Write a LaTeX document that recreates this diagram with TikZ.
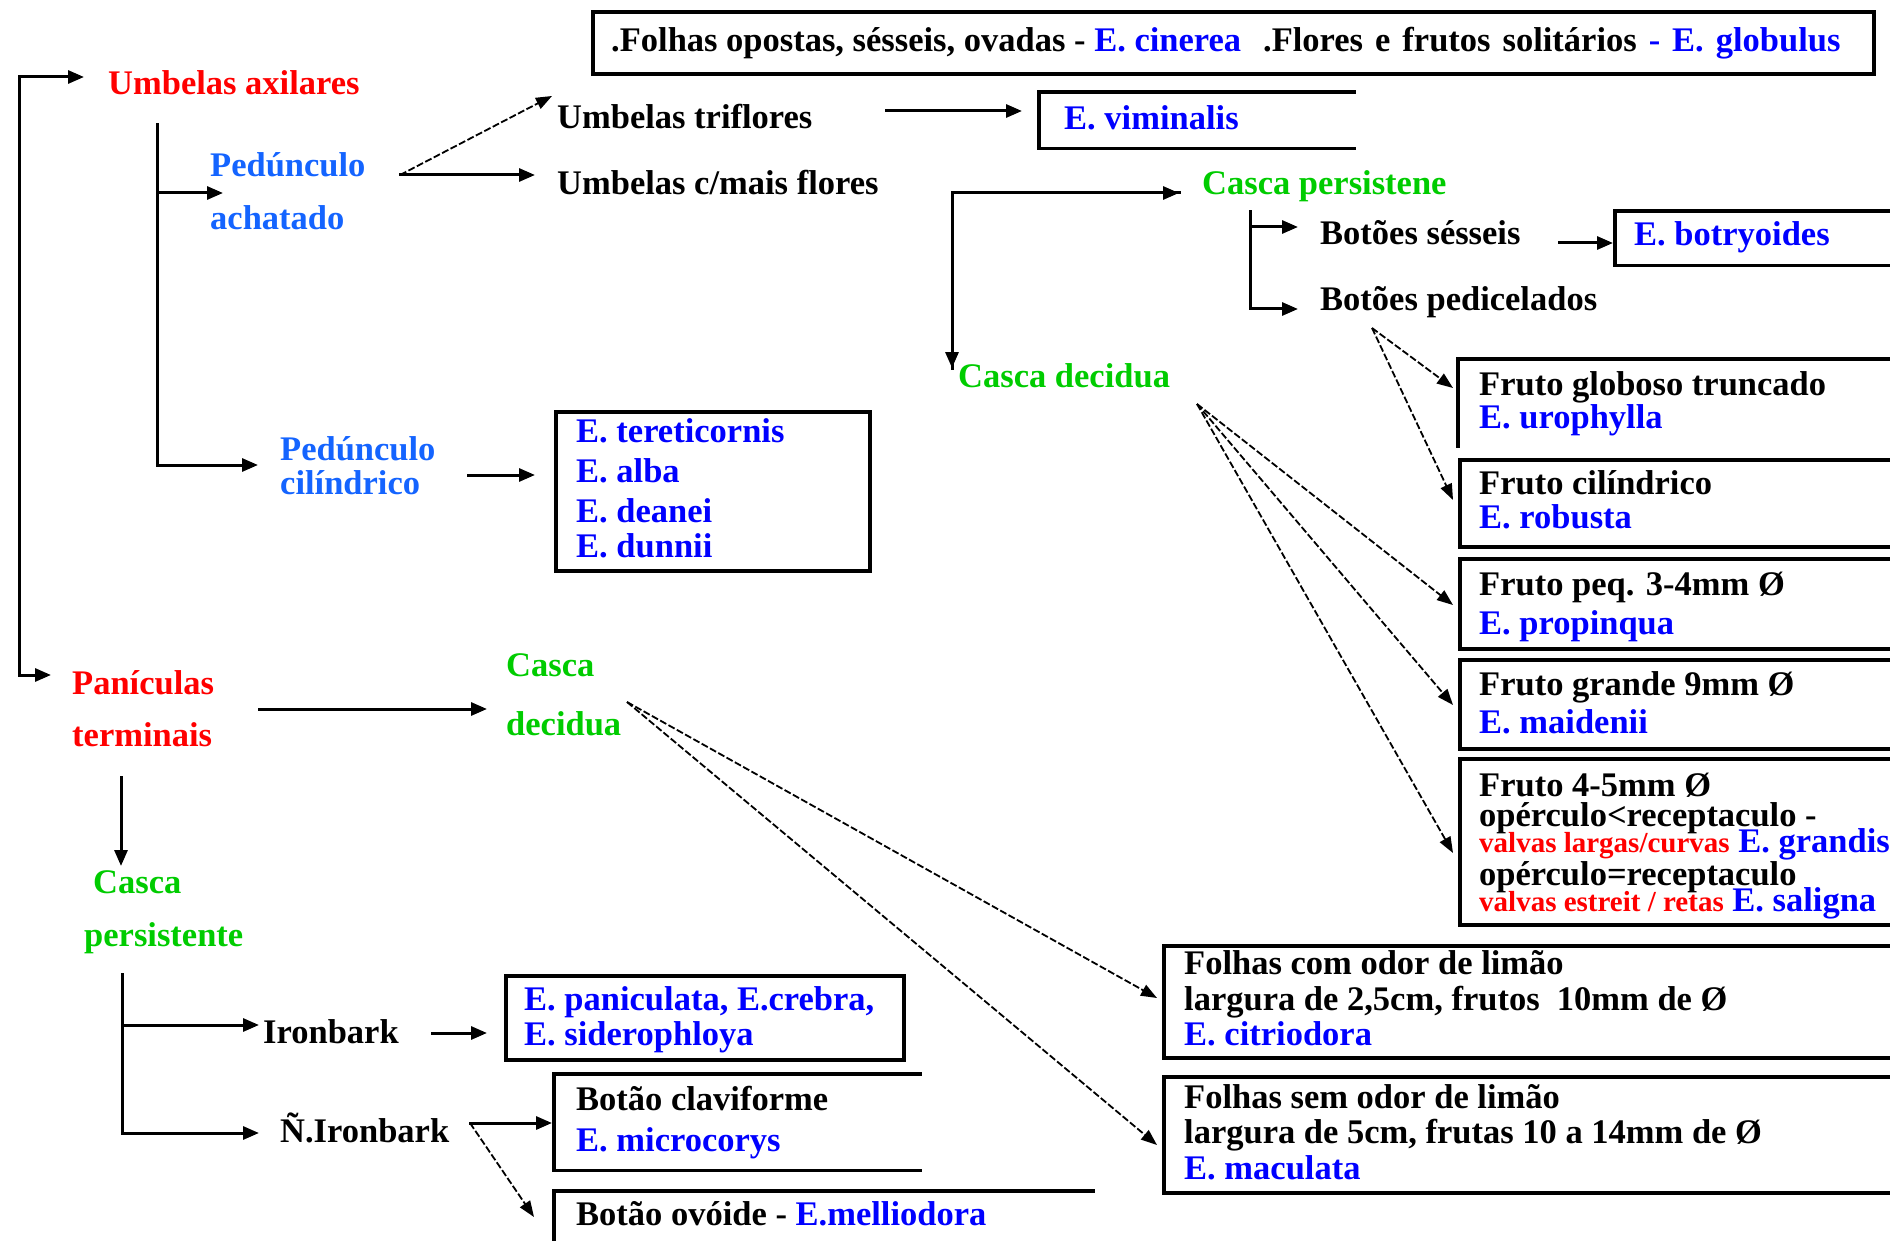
\documentclass[tikz,border=0pt]{standalone}
\usepackage{fontspec}
\setmainfont{Liberation Serif}
\usetikzlibrary{arrows.meta}
\definecolor{ered}{RGB}{255,0,0}
\definecolor{eblue}{RGB}{0,0,255}
\definecolor{lblue}{RGB}{20,100,255}
\definecolor{egreen}{RGB}{0,204,0}
\begin{document}
\begin{tikzpicture}[x=1pt,y=-1pt,
  txt/.style={anchor=base west, inner sep=0pt, font=\fontsize{34.5}{40}\selectfont\bfseries},
  arr/.style={line width=3pt, line cap=rect, -{Triangle[length=16pt,width=13pt]}},
  darr/.style={line width=1.8pt, dash pattern=on 7pt off 2.5pt, -{Triangle[length=16pt,width=12pt]}},
  boxn/.style={anchor=north west, inner sep=0pt, line width=3.6pt},
  side/.style={line width=3.6pt},
  ]
\useasboundingbox[fill=white] (0,0) rectangle (1890,1241);

% ---------- boxes ----------
\node[boxn, draw, minimum width=1281pt, minimum height=62pt] (topbox) at (591,10) {};
\node[boxn, minimum width=313pt, minimum height=53pt] (vimbox) at (1039,92) {};
\draw[side] (vimbox.north east) -- (vimbox.north west) -- (vimbox.south west) -- (vimbox.south east);
\node[boxn, minimum width=290pt, minimum height=51pt] (botbox) at (1615,211) {};
\draw[side] (botbox.north east) -- (botbox.north west) -- (botbox.south west) -- (botbox.south east);
\node[boxn, draw, minimum width=314pt, minimum height=159pt] (terebox) at (554,410) {};
\node[boxn, minimum width=450pt, minimum height=85pt] (globbox) at (1458,359) {};
\draw[side] (globbox.north east) -- (globbox.north west) -- (globbox.south west);
\node[boxn, draw, minimum width=450pt, minimum height=87pt] (cilbox) at (1458,458) {};
\node[boxn, draw, minimum width=450pt, minimum height=90pt] (peqbox) at (1458,557) {};
\node[boxn, draw, minimum width=450pt, minimum height=89pt] (grabox) at (1458,658) {};
\node[boxn, draw, minimum width=450pt, minimum height=166pt] (f45box) at (1458,757) {};
\node[boxn, draw, minimum width=398pt, minimum height=84pt] (ironbox) at (504,974) {};
\node[boxn, minimum width=364pt, minimum height=93pt] (clavbox) at (554,1074) {};
\draw[side] (clavbox.north east) -- (clavbox.north west) -- (clavbox.south west) -- (clavbox.south east);
\node[boxn, minimum width=537pt, minimum height=60pt] (ovbox) at (554,1191) {};
\draw[side] (ovbox.north east) -- (ovbox.north west) -- (ovbox.south west);
\node[boxn, draw, minimum width=750pt, minimum height=112pt] (combox) at (1162,944) {};
\node[boxn, draw, minimum width=750pt, minimum height=116pt] (sembox) at (1162,1075) {};

% ---------- texts ----------
\node[txt] (top) at (611,52) {.Folhas opostas, sésseis, ovadas - \textcolor{eblue}{E. cinerea}\hspace{22pt}{\spaceskip=12pt plus 2pt minus 1pt .Flores e frutos solitários \textcolor{eblue}{- E. globulus}}};
\node[txt, text=ered] (ua) at (108,95) {Umbelas axilares};
\node[txt, text=lblue] (pa1) at (210,177) {Pedúnculo};
\node[txt, text=lblue] (pa2) at (210,230) {achatado};
\node[txt] (ut) at (557,129) {Umbelas triflores};
\node[txt] (uc) at (557,195) {Umbelas c/mais flores};
\node[txt, text=eblue] (vim) at (1064,130) {E. viminalis};
\node[txt, text=egreen] (cp) at (1202,195) {Casca persistene};
\node[txt] (bs) at (1320,245) {Botões sésseis};
\node[txt] (bp) at (1320,311) {Botões pedicelados};
\node[txt, text=eblue] (bot) at (1634,246) {E. botryoides};
\node[txt, text=egreen] (cd) at (958,387) {Casca decidua};
\node[txt, text=lblue] (pc1) at (280,460) {Pedúnculo};
\node[txt, text=lblue] (pc2) at (280,494) {cilíndrico};
\node[txt, text=eblue] (t1) at (576,442) {E. tereticornis};
\node[txt, text=eblue] (t2) at (576,482) {E. alba};
\node[txt, text=eblue] (t3) at (576,522) {E. deanei};
\node[txt, text=eblue] (t4) at (576,557) {E. dunnii};

\node[txt] (g1) at (1479,395) {Fruto globoso truncado};
\node[txt, text=eblue] (g2) at (1479,428) {E. urophylla};
\node[txt] (c1) at (1479,494) {Fruto cilíndrico};
\node[txt, text=eblue] (c2) at (1479,528) {E. robusta};
\node[txt] (p1) at (1479,595) {Fruto peq. 3-4mm Ø};
\node[txt, text=eblue] (p2) at (1479,634) {E. propinqua};
\node[txt] (r1) at (1479,695) {Fruto grande 9mm Ø};
\node[txt, text=eblue] (r2) at (1479,733) {E. maidenii};
\node[txt] (f1) at (1479,796) {Fruto 4-5mm Ø};
\node[txt] (f2) at (1479,826) {opérculo<receptaculo -};
\node[txt] (f3) at (1479,852) {{\color{ered}\fontsize{29}{34}\selectfont valvas largas/curvas} \textcolor{eblue}{E. grandis}};
\node[txt] (f4) at (1479,885) {opérculo=receptaculo};
\node[txt] (f5) at (1479,911) {{\color{ered}\fontsize{29}{34}\selectfont valvas estreit / retas} \textcolor{eblue}{E. saligna}};

\node[txt, text=ered] (pt1) at (72,694) {Panículas};
\node[txt, text=ered] (pt2) at (72,746) {terminais};
\node[txt, text=egreen] (cdl1) at (506,676) {Casca};
\node[txt, text=egreen] (cdl2) at (506,735) {decidua};
\node[txt, text=egreen] (cpl1) at (93,893) {Casca};
\node[txt, text=egreen] (cpl2) at (84,946) {persistente};
\node[txt] (ib) at (263,1043) {Ironbark};
\node[txt, text=eblue] (i1) at (524,1010) {E. paniculata, E.crebra,};
\node[txt, text=eblue] (i2) at (524,1045) {E. siderophloya};
\node[txt] (nib) at (280,1142) {Ñ.Ironbark};
\node[txt] (cl1) at (576,1110) {Botão claviforme};
\node[txt, text=eblue] (cl2) at (576,1151) {E. microcorys};
\node[txt] (ov) at (576,1225) {Botão ovóide - \textcolor{eblue}{E.melliodora}};
\node[txt] (co1) at (1184,974) {Folhas com odor de limão};
\node[txt] (co2) at (1184,1010) {largura de 2,5cm, frutos\ \ 10mm de Ø};
\node[txt, text=eblue] (co3) at (1184,1045) {E. citriodora};
\node[txt] (so1) at (1184,1108) {Folhas sem odor de limão};
\node[txt] (so2) at (1184,1143) {largura de 5cm, frutas 10 a 14mm de Ø};
\node[txt, text=eblue] (so3) at (1184,1179) {E. maculata};

% ---------- connector points ----------
\coordinate (rootT) at (19,77);   \coordinate (rootB) at (19,675);
\coordinate (uaIn) at (84,77);    \coordinate (ptIn) at (51,675);
\coordinate (uaT) at (157,125);   \coordinate (uaJ1) at (157,193); \coordinate (uaJ2) at (157,465);
\coordinate (paIn) at (223,193);  \coordinate (pcIn) at (258,465);
\coordinate (paOut) at (400,175); \coordinate (utIn) at (552,96);  \coordinate (ucIn) at (535,175);
\coordinate (utOut) at (886,111); \coordinate (vimIn) at (1022,111);
\coordinate (ucJ) at (952,193);   \coordinate (cpIn) at (1179,193); \coordinate (cdIn) at (952,368);
\coordinate (cpT) at (1250,212);  \coordinate (cpJ1) at (1250,227); \coordinate (cpJ2) at (1250,309);
\coordinate (bsIn) at (1298,227); \coordinate (bpIn) at (1298,309);
\coordinate (bsOut) at (1559,243); \coordinate (botIn) at (1613,243);
\coordinate (pcOut) at (468,475); \coordinate (tereIn) at (535,475);
\coordinate (bpOut) at (1372,328); \coordinate (cdOut) at (1197,404);
\coordinate (globIn) at (1453,388); \coordinate (cilIn) at (1453,500);
\coordinate (peqIn) at (1453,605); \coordinate (graIn) at (1453,705); \coordinate (f45In) at (1453,853);
\coordinate (ptOut) at (259,709); \coordinate (cdlIn) at (487,709);
\coordinate (ptD) at (121,777);   \coordinate (cplIn) at (121,866);
\coordinate (cplT) at (122,974);  \coordinate (cplJ1) at (122,1025); \coordinate (cplJ2) at (122,1133);
\coordinate (ibIn) at (259,1025); \coordinate (nibIn) at (259,1133);
\coordinate (ibOut) at (432,1033); \coordinate (ironIn) at (487,1033);
\coordinate (nibOut) at (470,1123); \coordinate (clavIn) at (552,1123); \coordinate (ovIn) at (534,1217);
\coordinate (cdlOut) at (627,702); \coordinate (comIn) at (1157,998); \coordinate (semIn) at (1157,1145);

% ---------- connectors ----------
\draw[arr] (rootB) -- (rootT) -- (uaIn);
\draw[arr] (rootT) -- (rootB) -- (ptIn);
\draw[arr] (uaT) -- (uaJ1) -- (paIn);
\draw[arr] (uaT) -- (uaJ2) -- (pcIn);
\draw[darr] (paOut) -- (utIn);
\draw[arr] (paOut) -- (ucIn);
\draw[arr] (utOut) -- (vimIn);
\draw[arr] (cdIn) -- (ucJ) -- (cpIn);
\draw[arr] (cpIn) -- (ucJ) -- (cdIn);
\draw[arr] (cpT) -- (cpJ1) -- (bsIn);
\draw[arr] (cpT) -- (cpJ2) -- (bpIn);
\draw[arr] (bsOut) -- (botIn);
\draw[arr] (pcOut) -- (tereIn);
\draw[darr] (bpOut) -- (globIn);
\draw[darr] (bpOut) -- (cilIn);
\draw[darr] (cdOut) -- (peqIn);
\draw[darr] (cdOut) -- (graIn);
\draw[darr] (cdOut) -- (f45In);
\draw[arr] (ptOut) -- (cdlIn);
\draw[arr] (ptD) -- (cplIn);
\draw[arr] (cplT) -- (cplJ1) -- (ibIn);
\draw[arr] (cplT) -- (cplJ2) -- (nibIn);
\draw[arr] (ibOut) -- (ironIn);
\draw[arr] (nibOut) -- (clavIn);
\draw[darr] (nibOut) -- (ovIn);
\draw[darr] (cdlOut) -- (comIn);
\draw[darr] (cdlOut) -- (semIn);
\end{tikzpicture}
\end{document}
